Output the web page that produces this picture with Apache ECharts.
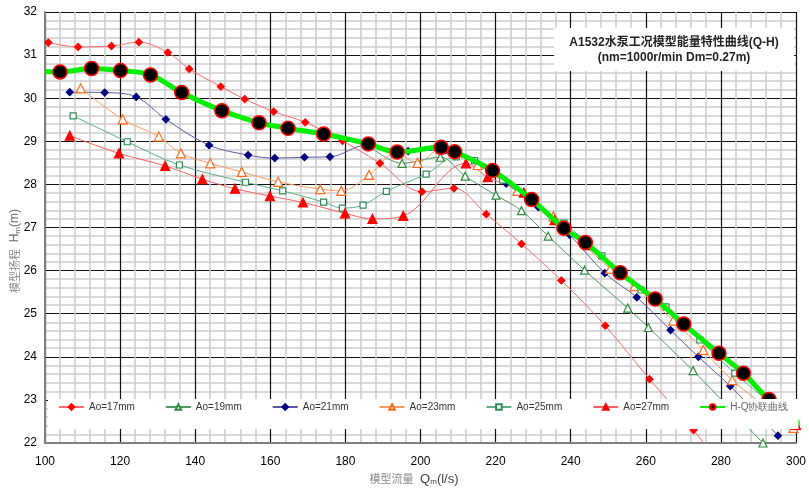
<!DOCTYPE html>
<html>
<head>
<meta charset="utf-8">
<script src="https://cdn.jsdelivr.net/npm/echarts@6/dist/echarts.min.js"></script>
<style>
  html, body { margin: 0; padding: 0; background: #fff; }
  #chart { width: 809px; height: 491px; }
</style>
</head>
<body>
<div id="chart"></div>
<script>
// Q (l/s) – H (m) test points for each blade opening
const ao17 = [[100.9,31.29],[108.8,31.19],[117.7,31.21],[125.0,31.30],[132.7,31.06],[138.4,30.68],[146.8,30.27],
  [153.2,29.98],[160.9,29.69],[169.3,29.44],[179.2,29.01],[189.2,28.49],[200.4,27.83],[208.9,27.91],[217.5,27.31],
  [226.9,26.62],[237.5,25.77],[249.2,24.72],[261.0,23.48],[272.7,22.30],[284.0,21.00]];
const ao19 = [[186.1,28.91],[195.1,28.49],[205.3,28.63],[211.9,28.19],[220.1,27.75],[226.9,27.39],[234.0,26.80],
  [243.7,26.01],[255.2,25.13],[260.7,24.68],[272.6,23.68],[281.7,22.86],[291.2,22.00]];
const ao21 = [[106.6,30.14],[115.9,30.13],[124.3,30.03],[132.2,29.51],[143.7,28.91],[154.1,28.68],[161.2,28.61],
  [169.1,28.63],[175.9,28.64],[185.6,28.91],[196.7,28.77],[206.8,28.80],[215.7,28.45],[222.8,28.02],[231.4,27.47],
  [239.7,26.83],[249.1,25.94],[257.6,25.38],[266.6,24.62],[274.0,24.00],[282.5,23.32],[295.2,22.17]];
const ao23 = [[109.5,30.23],[120.7,29.51],[130.3,29.11],[136.2,28.72],[144.0,28.49],[152.4,28.29],[162.1,28.06],
  [173.3,27.89],[178.9,27.85],[186.3,28.22],[193.5,28.73],[199.2,28.50],[205.4,28.82],[215.2,28.45],[225.8,27.85],
  [235.4,27.26],[250.5,26.04],[257.0,25.64],[267.3,24.84],[275.3,24.16],[283.0,23.46],[299.3,22.35]];
const ao25 = [[107.5,29.59],[121.9,28.99],[135.8,28.45],[153.4,28.05],[163.3,27.85],[174.2,27.59],[179.2,27.45],
  [184.7,27.52],[190.9,27.84],[201.5,28.24],[209.5,28.64],[214.4,28.55],[221.9,28.10],[229.8,27.59],[238.2,27.10],
  [248.3,26.34],[258.7,25.55],[265.4,25.16],[274.4,24.39],[283.7,23.62],[300.0,22.44]];
const ao27 = [[106.6,29.13],[119.7,28.72],[132.0,28.43],[141.9,28.12],[150.6,27.90],[159.9,27.73],[168.7,27.58],
  [179.9,27.33],[187.2,27.20],[195.4,27.27],[212.1,28.49],[217.9,28.17],[227.5,27.81],[235.7,27.17],[244.8,26.59],
  [253.2,25.98],[262.5,25.38],[270.1,24.80],[279.5,24.12],[286.0,23.65],[292.8,23.04],[300.0,22.42]];
// combined (cam) H-Q curve
const hqPoints = [[104.0,30.61],[112.4,30.69],[120.1,30.64],[128.1,30.54],[136.4,30.13],[147.1,29.71],[157.0,29.43],
  [164.7,29.30],[174.2,29.17],[186.1,28.94],[193.8,28.75],[205.5,28.86],[209.1,28.76],[219.2,28.32],[229.6,27.65],
  [238.2,26.98],[243.9,26.65],[253.2,25.95],[262.5,25.34],[270.1,24.76],[279.5,24.08],[286.0,23.62],[292.8,23.01]];
const hqStart = [100, 30.62];
const hqEnd = [302, 22.4];

const seriesNames = ['Ao=17mm', 'Ao=19mm', 'Ao=21mm', 'Ao=23mm', 'Ao=25mm', 'Ao=27mm', 'H-Q协联曲线'];
const qRange = [100, 300];
const hRange = [22, 32];

const titleLines = ['A1532水泵工况模型能量特性曲线(Q-H)', '(nm=1000r/min Dm=0.27m)'];

function curve(name, data, lineColor, symbol, size, markColor, fill) {
  return {
    name: name,
    type: 'line',
    data: data,
    smooth: 0.35,
    symbol: symbol,
    symbolSize: size,
    showAllSymbol: true,
    lineStyle: { color: lineColor, width: 1 },
    itemStyle: { color: fill || markColor, borderColor: markColor, borderWidth: 1.2 },
    emphasis: { disabled: true },
    z: 3
  };
}

const hqData = [{ value: hqStart, symbol: 'none' }]
  .concat(hqPoints.map(p => ({ value: p })))
  .concat([{ value: hqEnd, symbol: 'none' }]);

const series = [
  curve(seriesNames[0], ao17, '#ff6a6a', 'diamond', 7, '#ff0000'),
  curve(seriesNames[1], ao19, '#4f9a5f', 'triangle', 8, '#2e8b3e', '#ffffff'),
  curve(seriesNames[2], ao21, '#5a5aa8', 'diamond', 7, '#000080'),
  curve(seriesNames[3], ao23, '#ff9a66', 'triangle', 9, '#ff6a1a', '#ffffff'),
  curve(seriesNames[4], ao25, '#5fae84', 'rect', 6, '#2e8b57', '#ffffff'),
  curve(seriesNames[5], ao27, '#ff6060', 'triangle', 9, '#ff0000'),
  {
    name: seriesNames[6],
    type: 'line',
    data: hqData,
    smooth: 0.35,
    symbol: 'circle',
    symbolSize: 14,
    lineStyle: { color: '#00ee00', width: 5 },
    itemStyle: { color: '#000000', borderColor: '#ff0000', borderWidth: 1.5 },
    emphasis: { disabled: true },
    z: 5
  }
];

const legendData = seriesNames.map((n, i) => ({
  name: n,
  textStyle: { color: i < 6 ? '#333' : '#666' }
}));

const chart = echarts.init(document.getElementById('chart'), null, { renderer: 'canvas' });
chart.setOption({
  animation: false,
  backgroundColor: '#ffffff',
  grid: { left: 45, right: 9, top: 12, bottom: 48, containLabel: false },
  xAxis: {
    type: 'value', min: qRange[0], max: qRange[1], interval: 20,
    axisLine: { show: true, lineStyle: { color: '#7f7f7f', width: 2 } },
    axisTick: { show: false },
    axisLabel: { color: '#000', fontSize: 12, fontFamily: 'Liberation Sans, Arial', margin: 13 },
    splitLine: { show: true, lineStyle: { color: '#111', width: 1.2 } },
    minorTick: { show: false, splitNumber: 5 },
    minorSplitLine: { show: true, lineStyle: { color: '#cdcdcd', width: 1.5 } }
  },
  yAxis: {
    type: 'value', min: hRange[0], max: hRange[1], interval: 1,
    axisLine: { show: true, lineStyle: { color: '#7f7f7f', width: 2 } },
    axisTick: { show: false },
    axisLabel: { color: '#000', fontSize: 12, fontFamily: 'Liberation Sans, Arial', margin: 8 },
    splitLine: { show: true, lineStyle: { color: '#111', width: 1.2 } },
    minorTick: { show: false, splitNumber: 5 },
    minorSplitLine: { show: true, lineStyle: { color: '#cdcdcd', width: 1.5 } }
  },
  legend: {
    data: legendData,
    left: 48, top: 399,
    width: 745,
    orient: 'horizontal',
    padding: [3, 10, 17, 10],
    itemGap: 30,
    itemWidth: 25,
    itemHeight: 7,
    backgroundColor: '#ffffff',
    textStyle: { fontSize: 10, fontFamily: 'Liberation Sans, Arial', color: '#333' },
    selectedMode: false,
    z: 20
  },
  graphic: [
    {
      type: 'rect', z: 30,
      shape: { x: 554, y: 28, width: 240, height: 43 },
      style: { fill: '#ffffff' }
    },
    {
      type: 'text', z: 31,
      x: 674, y: 50,
      style: {
        text: titleLines.join('\n'),
        align: 'center', verticalAlign: 'middle',
        fontSize: 12, fontWeight: 'bold', lineHeight: 15,
        fontFamily: 'Liberation Sans, Arial, Noto Sans CJK SC',
        fill: '#222'
      }
    },
    {
      type: 'text', z: 31,
      x: 15, y: 251, rotation: Math.PI / 2,
      style: {
        text: '{c|模型扬程}  {l|H}{s|m}{l|(m)}',
        align: 'center', verticalAlign: 'middle',
        rich: {
          c: { fontSize: 11, fill: '#8a8a8a', fontFamily: 'Noto Sans CJK SC' },
          l: { fontSize: 12, fill: '#666', fontFamily: 'Liberation Sans, Arial' },
          s: { fontSize: 8, fill: '#666', fontFamily: 'Liberation Sans, Arial', padding: [5, 0, 0, 0] }
        }
      }
    },
    {
      type: 'text', z: 31,
      x: 414, y: 479,
      style: {
        text: '{c|模型流量}  {l|Q}{s|m}{l|(l/s)}',
        align: 'center', verticalAlign: 'middle',
        rich: {
          c: { fontSize: 11, fill: '#8a8a8a', fontFamily: 'Noto Sans CJK SC' },
          l: { fontSize: 13, fill: '#444', fontFamily: 'Liberation Sans, Arial' },
          s: { fontSize: 8, fill: '#444', fontFamily: 'Liberation Sans, Arial', padding: [6, 0, 0, 0] }
        }
      }
    }
  ],
  series: series
});
</script>
</body>
</html>
